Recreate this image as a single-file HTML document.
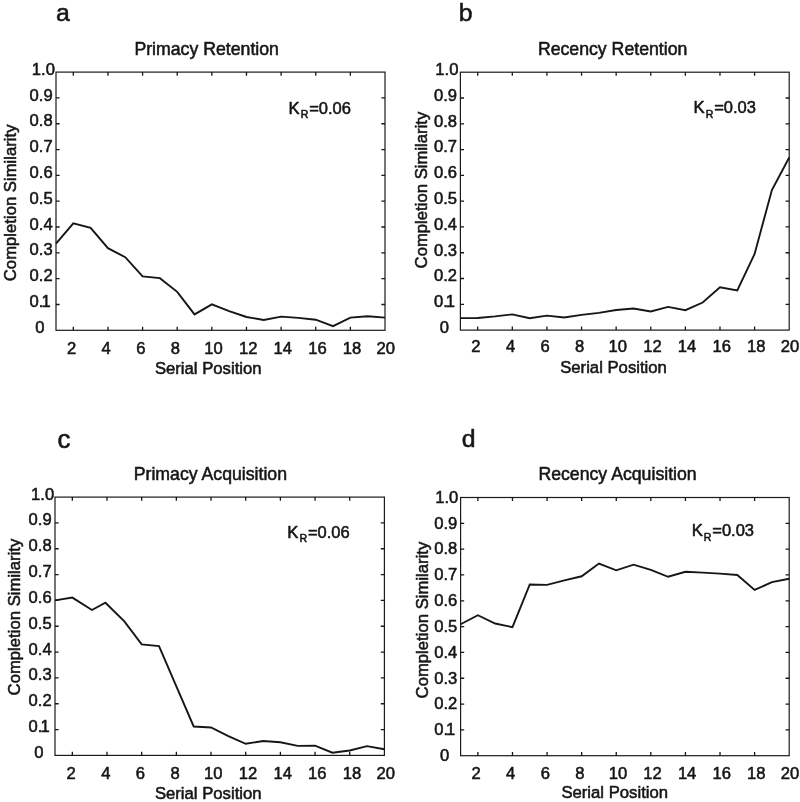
<!DOCTYPE html>
<html lang="en">
<head>
<meta charset="utf-8">
<title>Serial position curves</title>
<style>
html,body{margin:0;padding:0;background:#fff;}
body{width:800px;height:802px;overflow:hidden;}
svg{display:block;will-change:transform;filter:grayscale(1);}
svg text{font-family:"Liberation Sans", Arial, Helvetica, sans-serif;fill:#161616;stroke:#161616;stroke-width:0.55px;stroke-linejoin:round;}
</style>
</head>
<body>
<svg width="800" height="802" viewBox="0 0 800 802">
<rect width="800" height="802" fill="#ffffff"/>
<g id="plot-a">
<rect x="56" y="72.1" width="329" height="258.2" fill="none" stroke="#1a1a1a" stroke-width="1.2"/>
<path d="M73.32 330.3v-3.6M73.32 72.1v3.6M107.95 330.3v-3.6M107.95 72.1v3.6M142.58 330.3v-3.6M142.58 72.1v3.6M177.21 330.3v-3.6M177.21 72.1v3.6M211.84 330.3v-3.6M211.84 72.1v3.6M246.47 330.3v-3.6M246.47 72.1v3.6M281.11 330.3v-3.6M281.11 72.1v3.6M315.74 330.3v-3.6M315.74 72.1v3.6M350.37 330.3v-3.6M350.37 72.1v3.6M56 304.48h3.6M385 304.48h-3.6M56 278.66h3.6M385 278.66h-3.6M56 252.84h3.6M385 252.84h-3.6M56 227.02h3.6M385 227.02h-3.6M56 201.2h3.6M385 201.2h-3.6M56 175.38h3.6M385 175.38h-3.6M56 149.56h3.6M385 149.56h-3.6M56 123.74h3.6M385 123.74h-3.6M56 97.92h3.6M385 97.92h-3.6" stroke="#161616" stroke-width="1.3" fill="none"/>
<polyline points="56,243.54 73.32,223.41 90.63,227.79 107.95,248.19 125.26,257.23 142.58,276.34 159.89,278.14 177.21,291.83 194.53,314.42 211.84,304.33 229.16,311.06 246.47,317 263.79,319.97 281.11,316.62 298.42,317.91 315.74,319.71 333.05,326.17 350.37,317.65 367.68,316.23 385,317.65" fill="none" stroke="#161616" stroke-width="1.9" stroke-linejoin="miter" stroke-linecap="butt"/>
<g font-size="16.6" text-anchor="middle">
<text x="71.52" y="353.7">2</text>
<text x="106.15" y="353.7">4</text>
<text x="140.78" y="353.7">6</text>
<text x="175.41" y="353.7">8</text>
<text x="213.54" y="353.7">10</text>
<text x="248.17" y="353.7">12</text>
<text x="282.81" y="353.7">14</text>
<text x="317.44" y="353.7">16</text>
<text x="352.07" y="353.7">18</text>
<text x="385.8" y="353.7">20</text>
</g>
<g font-size="16.6">
<text x="35.3" y="332.9">0</text>
<text x="29.6" y="307.08">0.<tspan dx="-2">1</tspan></text>
<text x="29.6" y="281.26">0.2</text>
<text x="29.6" y="255.44">0.3</text>
<text x="29.6" y="229.62">0.4</text>
<text x="29.6" y="203.8">0.5</text>
<text x="29.6" y="177.98">0.6</text>
<text x="29.6" y="152.16">0.7</text>
<text x="29.6" y="126.34">0.8</text>
<text x="29.6" y="100.52">0.9</text>
<text x="31.8" y="74.7">1.0</text>
</g>
<text x="55.9" y="20.5" font-size="24.8">a</text>
<text x="134.4" y="54.8" font-size="17.7">Primacy Retention</text>
<text x="154.9" y="373.8" font-size="16.7">Serial Position</text>
<text transform="translate(15.7 281.2) rotate(-90)" font-size="16.7">Completion Similarity</text>
<text y="113.6" font-size="16.7"><tspan x="288.6">K</tspan><tspan x="300.7" font-size="10.6" dy="4.6">R</tspan><tspan x="309.2" dy="-4.6" font-size="16.5">=0.06</tspan></text>
</g>
<g id="plot-b">
<rect x="460.4" y="72.2" width="328.8" height="257.9" fill="none" stroke="#1a1a1a" stroke-width="1.2"/>
<path d="M477.71 330.1v-3.6M477.71 72.2v3.6M512.32 330.1v-3.6M512.32 72.2v3.6M546.93 330.1v-3.6M546.93 72.2v3.6M581.54 330.1v-3.6M581.54 72.2v3.6M616.15 330.1v-3.6M616.15 72.2v3.6M650.76 330.1v-3.6M650.76 72.2v3.6M685.37 330.1v-3.6M685.37 72.2v3.6M719.98 330.1v-3.6M719.98 72.2v3.6M754.59 330.1v-3.6M754.59 72.2v3.6M460.4 304.31h3.6M789.2 304.31h-3.6M460.4 278.52h3.6M789.2 278.52h-3.6M460.4 252.73h3.6M789.2 252.73h-3.6M460.4 226.94h3.6M789.2 226.94h-3.6M460.4 201.15h3.6M789.2 201.15h-3.6M460.4 175.36h3.6M789.2 175.36h-3.6M460.4 149.57h3.6M789.2 149.57h-3.6M460.4 123.78h3.6M789.2 123.78h-3.6M460.4 97.99h3.6M789.2 97.99h-3.6" stroke="#161616" stroke-width="1.3" fill="none"/>
<polyline points="460.4,318.16 477.71,317.98 495.01,316.43 512.32,314.37 529.62,318.24 546.93,315.66 564.23,317.46 581.54,314.88 598.84,312.82 616.15,309.98 633.45,308.44 650.76,311.53 668.06,306.89 685.37,310.24 702.67,302.5 719.98,287.29 737.28,290.38 754.59,254.02 771.89,190.06 789.2,157.56" fill="none" stroke="#161616" stroke-width="1.9" stroke-linejoin="miter" stroke-linecap="butt"/>
<g font-size="16.6" text-anchor="middle">
<text x="475.91" y="352">2</text>
<text x="510.52" y="352">4</text>
<text x="545.13" y="352">6</text>
<text x="579.74" y="352">8</text>
<text x="617.85" y="352">10</text>
<text x="652.46" y="352">12</text>
<text x="687.07" y="352">14</text>
<text x="721.68" y="352">16</text>
<text x="756.29" y="352">18</text>
<text x="790" y="352">20</text>
</g>
<g font-size="16.6">
<text x="439.7" y="332.9">0</text>
<text x="434" y="307.11">0.<tspan dx="-2">1</tspan></text>
<text x="434" y="281.32">0.2</text>
<text x="434" y="255.53">0.3</text>
<text x="434" y="229.74">0.4</text>
<text x="434" y="203.95">0.5</text>
<text x="434" y="178.16">0.6</text>
<text x="434" y="152.37">0.7</text>
<text x="434" y="126.58">0.8</text>
<text x="434" y="100.79">0.9</text>
<text x="435.3" y="75">1.0</text>
</g>
<text x="458.8" y="20.6" font-size="24.8">b</text>
<text x="537.9" y="54.8" font-size="17.7">Recency Retention</text>
<text x="560.2" y="373.1" font-size="16.7">Serial Position</text>
<text transform="translate(427 268.4) rotate(-90)" font-size="16.7">Completion Similarity</text>
<text y="112.9" font-size="16.7"><tspan x="693.6">K</tspan><tspan x="705.7" font-size="10.6" dy="4.6">R</tspan><tspan x="714.2" dy="-4.6" font-size="16.5">=0.03</tspan></text>
</g>
<g id="plot-c">
<rect x="55" y="497.1" width="329.4" height="258.3" fill="none" stroke="#1a1a1a" stroke-width="1.2"/>
<path d="M72.34 755.4v-3.6M72.34 497.1v3.6M107.01 755.4v-3.6M107.01 497.1v3.6M141.68 755.4v-3.6M141.68 497.1v3.6M176.36 755.4v-3.6M176.36 497.1v3.6M211.03 755.4v-3.6M211.03 497.1v3.6M245.71 755.4v-3.6M245.71 497.1v3.6M280.38 755.4v-3.6M280.38 497.1v3.6M315.05 755.4v-3.6M315.05 497.1v3.6M349.73 755.4v-3.6M349.73 497.1v3.6M55 729.57h3.6M384.4 729.57h-3.6M55 703.74h3.6M384.4 703.74h-3.6M55 677.91h3.6M384.4 677.91h-3.6M55 652.08h3.6M384.4 652.08h-3.6M55 626.25h3.6M384.4 626.25h-3.6M55 600.42h3.6M384.4 600.42h-3.6M55 574.59h3.6M384.4 574.59h-3.6M55 548.76h3.6M384.4 548.76h-3.6M55 522.93h3.6M384.4 522.93h-3.6" stroke="#161616" stroke-width="1.3" fill="none"/>
<polyline points="55,600.42 72.34,597.58 91.97,609.98 105.41,602.74 124.35,621.34 141.68,644.33 159.02,646.14 176.36,686.3 193.69,726.47 211.03,727.5 228.37,736.03 245.71,743.78 263.04,740.94 280.38,742.23 297.72,745.84 315.05,745.58 332.39,752.69 349.73,750.49 367.06,746.1 384.4,749.2" fill="none" stroke="#161616" stroke-width="1.9" stroke-linejoin="miter" stroke-linecap="butt"/>
<g font-size="16.6" text-anchor="middle">
<text x="71.14" y="778.7">2</text>
<text x="105.81" y="778.7">4</text>
<text x="140.48" y="778.7">6</text>
<text x="175.16" y="778.7">8</text>
<text x="213.33" y="778.7">10</text>
<text x="248.01" y="778.7">12</text>
<text x="282.68" y="778.7">14</text>
<text x="317.35" y="778.7">16</text>
<text x="352.03" y="778.7">18</text>
<text x="385.8" y="778.7">20</text>
</g>
<g font-size="16.6">
<text x="34.3" y="757.9">0</text>
<text x="28.6" y="732.07">0.<tspan dx="-2">1</tspan></text>
<text x="28.6" y="706.24">0.2</text>
<text x="28.6" y="680.41">0.3</text>
<text x="28.6" y="654.58">0.4</text>
<text x="28.6" y="628.75">0.5</text>
<text x="28.6" y="602.92">0.6</text>
<text x="28.6" y="577.09">0.7</text>
<text x="28.6" y="551.26">0.8</text>
<text x="28.6" y="525.43">0.9</text>
<text x="31.1" y="499.6">1.0</text>
</g>
<text x="57.6" y="447.7" font-size="25.8" stroke-width="0.9">c</text>
<text x="133.7" y="479.8" font-size="17.7">Primacy Acquisition</text>
<text x="154.9" y="799.1" font-size="16.7">Serial Position</text>
<text transform="translate(20.4 695.4) rotate(-90)" font-size="16.7">Completion Similarity</text>
<text y="537.5" font-size="16.7"><tspan x="287.3">K</tspan><tspan x="299.4" font-size="10.6" dy="4.6">R</tspan><tspan x="307.9" dy="-4.6" font-size="16.5">=0.06</tspan></text>
</g>
<g id="plot-d">
<rect x="460.6" y="497.5" width="328.6" height="258.2" fill="none" stroke="#1a1a1a" stroke-width="1.2"/>
<path d="M477.89 755.7v-3.6M477.89 497.5v3.6M512.48 755.7v-3.6M512.48 497.5v3.6M547.07 755.7v-3.6M547.07 497.5v3.6M581.66 755.7v-3.6M581.66 497.5v3.6M616.25 755.7v-3.6M616.25 497.5v3.6M650.84 755.7v-3.6M650.84 497.5v3.6M685.43 755.7v-3.6M685.43 497.5v3.6M720.02 755.7v-3.6M720.02 497.5v3.6M754.61 755.7v-3.6M754.61 497.5v3.6M460.6 729.88h3.6M789.2 729.88h-3.6M460.6 704.06h3.6M789.2 704.06h-3.6M460.6 678.24h3.6M789.2 678.24h-3.6M460.6 652.42h3.6M789.2 652.42h-3.6M460.6 626.6h3.6M789.2 626.6h-3.6M460.6 600.78h3.6M789.2 600.78h-3.6M460.6 574.96h3.6M789.2 574.96h-3.6M460.6 549.14h3.6M789.2 549.14h-3.6M460.6 523.32h3.6M789.2 523.32h-3.6" stroke="#161616" stroke-width="1.3" fill="none"/>
<polyline points="460.6,624.28 477.89,615.24 495.19,623.5 512.48,627.12 529.78,584.51 547.07,584.9 564.37,580.38 581.66,576.25 598.96,563.6 616.25,570.31 633.55,564.63 650.84,569.9 668.14,576.77 685.43,571.73 702.73,572.64 720.02,573.67 737.32,574.96 754.61,589.94 771.91,582.19 789.2,578.7" fill="none" stroke="#161616" stroke-width="1.9" stroke-linejoin="miter" stroke-linecap="butt"/>
<g font-size="16.6" text-anchor="middle">
<text x="476.09" y="778.6">2</text>
<text x="510.68" y="778.6">4</text>
<text x="545.27" y="778.6">6</text>
<text x="579.86" y="778.6">8</text>
<text x="617.95" y="778.6">10</text>
<text x="652.54" y="778.6">12</text>
<text x="687.13" y="778.6">14</text>
<text x="721.72" y="778.6">16</text>
<text x="756.31" y="778.6">18</text>
<text x="790" y="778.6">20</text>
</g>
<g font-size="16.6">
<text x="439.9" y="761">0</text>
<text x="434.2" y="735.18">0.<tspan dx="-2">1</tspan></text>
<text x="434.2" y="709.36">0.2</text>
<text x="434.2" y="683.54">0.3</text>
<text x="434.2" y="657.72">0.4</text>
<text x="434.2" y="631.9">0.5</text>
<text x="434.2" y="606.08">0.6</text>
<text x="434.2" y="580.26">0.7</text>
<text x="434.2" y="554.44">0.8</text>
<text x="434.2" y="528.62">0.9</text>
<text x="435.2" y="502.8">1.0</text>
</g>
<text x="461.8" y="446.7" font-size="24.8">d</text>
<text x="538.4" y="479.8" font-size="17.7">Recency Acquisition</text>
<text x="561.4" y="797.6" font-size="16.7">Serial Position</text>
<text transform="translate(427.8 698.4) rotate(-90)" font-size="16.7">Completion Similarity</text>
<text y="536.3" font-size="16.7"><tspan x="691.7">K</tspan><tspan x="703.8" font-size="10.6" dy="4.6">R</tspan><tspan x="712.3" dy="-4.6" font-size="16.5">=0.03</tspan></text>
</g>
</svg>
</body>
</html>
